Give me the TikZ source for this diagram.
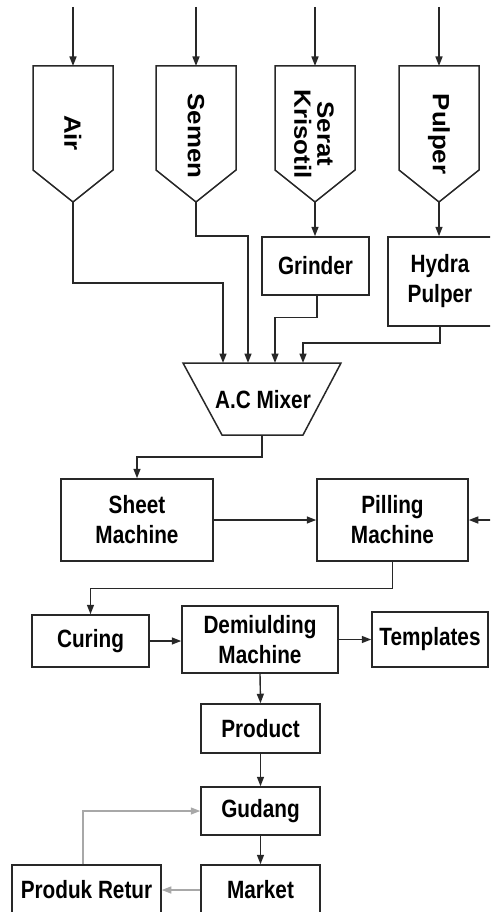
\documentclass[tikz,border=0pt]{standalone}
\usepackage{fontspec}
\setmainfont{Liberation Sans}[FakeStretch=0.83]
\newfontfamily\hopfont{Liberation Sans}[FakeStretch=1.1]
\usetikzlibrary{arrows.meta,calc}
\definecolor{linec}{HTML}{282828}
\definecolor{greyc}{HTML}{A8A8A8}
\tikzset{
  lbl/.style={font=\fontsize{25}{30}\bfseries\selectfont, align=center, inner sep=0pt},
  hoplbl/.style={font=\hopfont\fontsize{23.5}{23}\bfseries\selectfont, align=center, inner sep=0pt, rotate=-90},
  box/.style={draw=linec, line width=1.5pt, fill=white, lbl, minimum width=#1},
  outline/.style={draw=linec, line width=1.5pt, line join=miter},
  conn/.style={draw=linec, line width=1.4pt},
  arr/.style={conn, -{Triangle[length=9.5pt,width=7pt]}},
  garr/.style={draw=greyc, line width=1.4pt, -{Triangle[length=9.5pt,width=7pt]}}
}
\begin{document}
\begin{tikzpicture}[x=1pt,y=-1pt]
\useasboundingbox (0,0) rectangle (490,912);
\clip (0,0) rectangle (490,912);

% hoppers
\foreach \cx/\nm in {73/air,196/sem,315/ser,439/pul}{
  \draw[outline] (\cx-40,66) -- (\cx+40,66) -- (\cx+40,170) -- (\cx,202) -- (\cx-40,170) -- cycle;
  \coordinate (\nm tip) at (\cx,202);
  \coordinate (\nm top) at (\cx,66);
  \coordinate (\nm in) at (\cx,7);
  \draw[arr] (\nm in) -- (\nm top);
}
\node[hoplbl] (airlbl) at (73,133) {Air};
\node[hoplbl] (semlbl) at (196,136) {Semen};
\node[hoplbl] (serlbl) at (314,134) {Serat\\Krisotil};
\node[hoplbl] (pullbl) at (439,134) {Pulper};

% boxes
\node[box=107, minimum height=58] (grinder) at (315.5,266) {Grinder};
\node[box=107, minimum height=89] (hydra) at (441.5,281.5) {};
\node[lbl] (hydralbl) at (440,281.5) {Hydra\\Pulper};

% mixer
\draw[outline] (183,363) -- (341,363) -- (303,435) -- (222,435) -- cycle;
\node[lbl] (mixer) at (263,400) {A.C Mixer};
\coordinate (mixbot) at (262,435);

\draw[arr] (airtip) -- (73,283) -| (223,363);
\draw[arr] (semtip) -- (196,236) -| (248,363);
\draw[arr] (sertip) -- (sertip |- grinder.north);
\draw[arr] ($(grinder.south)+(1.5,0)$) -- ++(0,22) -| (275,363);
\draw[arr] (pultip) -- (pultip |- hydra.north);
\draw[arr] (440,326) -- (440,343) -| (303,363);

\node[box=152, minimum height=82] (sheet) at (137,520) {Sheet\\Machine};
\node[box=151, minimum height=82] (pilling) at (392.5,520) {Pilling\\Machine};
\coordinate (pillin) at (491,520);
\draw[arr] (mixbot) -- (262,457) -| (sheet.north);
\draw[arr] (sheet.east) -- (pilling.west);
\draw[arr] (pillin) -- (pilling.east);

\node[box=117, minimum height=52] (curing) at (90.5,641) {Curing};
\node[box=156, minimum height=67] (demi) at (260,639.5) {Demiulding\\Machine};
\node[box=116, minimum height=55] (templ) at (430,639.5) {Templates};
\draw[arr] (pilling.south) -- ++(0,27) -| (curing.north);
\draw[arr] (curing.east) -- (demi.west |- curing.east);
\draw[arr] (demi.east) -- (templ.west);

\node[box=119, minimum height=49] (product) at (260.5,728.5) {Product};
\node[box=119, minimum height=48] (gudang) at (260.5,811) {Gudang};
\node[box=119, minimum height=50] (market) at (260.5,890) {Market};
\node[box=149, minimum height=50] (retur) at (86.5,890) {Produk Retur};
\draw[arr] (demi.south) -- (product.north);
\draw[arr] (product.south) -- (gudang.north);
\draw[arr] (gudang.south) -- (market.north);
\draw[garr] (market.west) -- (retur.east);
\draw[garr] ($(retur.north)+(-3.5,0)$) |- (gudang.west);
\end{tikzpicture}
\end{document}
